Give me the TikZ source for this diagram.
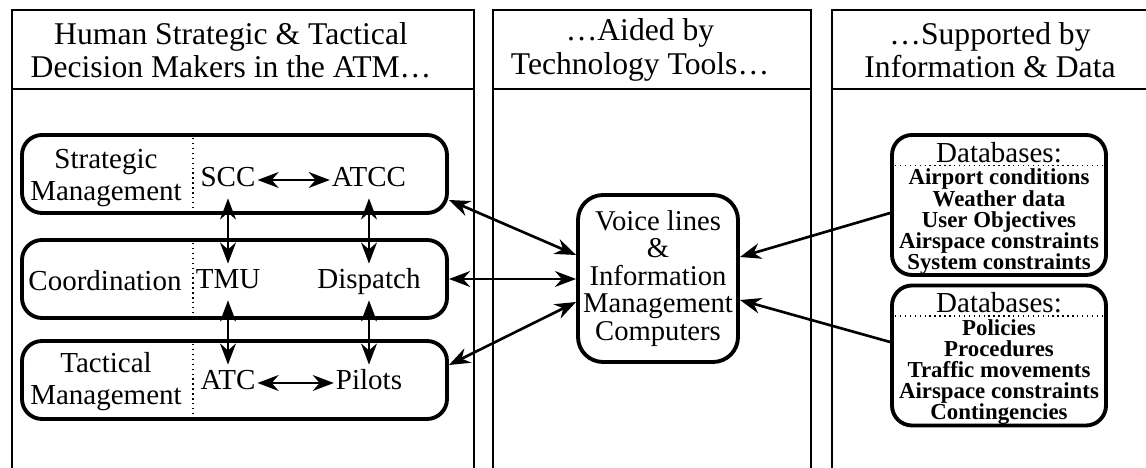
\documentclass[tikz,border=0pt]{standalone}
\usepackage{fontspec}
\setmainfont{Liberation Serif}
\usetikzlibrary{arrows.meta,positioning,calc}

\begin{document}
\begin{tikzpicture}[
    >={Stealth[length=12pt,width=9pt]},
    panel/.style={line width=1.3pt},
    header/.style={align=center, font=\fontsize{18}{19}\selectfont},
    layer/.style={draw, rounded corners=0.4cm, line width=2.2pt, minimum width=8.5cm, minimum height=1.56cm},
    rowname/.style={align=center, font=\fontsize{16.5}{18.2}\selectfont, inner sep=0pt},
    unit/.style={font=\fontsize{16.5}{18}\selectfont, text height=11pt, text depth=3.5pt,
        inner xsep=1pt, inner ysep=3pt},
    hub/.style={draw, rounded corners=0.5cm, line width=2.2pt, minimum width=3.2cm, minimum height=3.34cm,
        align=center, font=\fontsize{16.3}{15.7}\selectfont, inner sep=1pt},
    dbbox/.style={draw, rounded corners=0.4cm, line width=2.2pt, minimum width=4.28cm, minimum height=2.8cm},
    dbtitle/.style={font=\fontsize{16.5}{17}\selectfont, inner xsep=0pt, inner ysep=1.5pt},
    dblist/.style={align=center, font=\bfseries\fontsize{13}{12}\selectfont, inner xsep=1.5pt, inner ysep=1.8pt},
    divider/.style={dotted, line width=0.8pt},
    link/.style={<->, line width=1.5pt},
    feed/.style={->, line width=1.5pt}
]
    \useasboundingbox (0,0) rectangle (22.92,9.36);

    % three columns, open at the bottom
    \draw[panel] (0.24,0) |- (9.48,9.16) -- (9.48,0);
    \draw[panel] (0.24,7.58) -- (9.48,7.58);
    \draw[panel] (9.86,0) |- (16.22,9.16) -- (16.22,0);
    \draw[panel] (9.86,7.58) -- (16.22,7.58);
    \draw[panel] (16.64,0) |- (22.92,9.16);
    \draw[panel] (16.64,7.58) -- (22.92,7.58);

    \node[header] (humans) at (4.62,8.36) {Human Strategic \& Tactical\\Decision Makers in the ATM\ldots};
    \node[header] (tools) at (12.8,8.36) {\ldots Aided by\\Technology Tools\ldots};
    \node[header] (data) at (19.8,8.36) {\ldots Supported by\\Information \& Data};

    \node[layer] (strat) at (4.69,5.88) {};
    \node[layer] (coord) at (4.69,3.78) {};
    \node[layer] (tact) at (4.69,1.76) {};
    \foreach \row in {strat,coord,tact}
        \draw[divider] (3.86,0 |- \row.north) -- (3.86,0 |- \row.south);

    \node[rowname] (stratname) at (2.12,5.8) {Strategic\\Management};
    \node[rowname] (coordname) at (2.1,3.74) {Coordination};
    \node[rowname] (tactname) at (2.12,1.72) {Tactical\\Management};

    \node[unit] (scc) at (4.56,5.76) {SCC};
    \node[unit] (atcc) at (7.38,5.76) {ATCC};
    \node[unit] (tmu) at (4.56,3.72) {TMU};
    \node[unit] (dispatch) at (7.38,3.72) {Dispatch};
    \node[unit] (atc) at (4.56,1.70) {ATC};
    \node[unit] (pilots) at (7.38,1.70) {Pilots};

    \draw[link] (scc) -- (atcc);
    \draw[link] (atc) -- (pilots);
    \draw[link] (scc) -- (tmu);
    \draw[link] (tmu) -- (atc);
    \draw[link] (atcc) -- (dispatch);
    \draw[link] (dispatch) -- (pilots);

    \node[hub] (voice) at (13.16,3.79) {Voice lines\\\&\\Information\\Management\\Computers};

    \draw[link] ([yshift=-0.52cm]strat.east) -- ([yshift=0.47cm]voice.west);
    \draw[link] (coord.east) -- (coord.east -| voice.west);
    \draw[link] ([yshift=0.30cm]tact.east) -- ([yshift=-0.47cm]voice.west);

    \node[dbbox] (db1) at (19.98,5.26) {};
    \node[dbtitle, below=0.12cm of db1.north] (db1title) {Databases:};
    \draw[divider] (db1.west |- db1title.south) -- (db1.east |- db1title.south);
    \node[dblist, below=0pt of db1title] (db1list) {Airport conditions\\Weather data\\User Objectives\\Airspace constraints\\System constraints};

    \node[dbbox] (db2) at (19.98,2.25) {};
    \node[dbtitle, below=0.12cm of db2.north] (db2title) {Databases:};
    \draw[divider] (db2.west |- db2title.south) -- (db2.east |- db2title.south);
    \node[dblist, below=0pt of db2title] (db2list) {Policies\\Procedures\\Traffic movements\\Airspace constraints\\Contingencies};

    \draw[feed] ([yshift=-0.16cm]db1.west) -- ([yshift=0.43cm]voice.east);
    \draw[feed] ([yshift=0.27cm]db2.west) -- ([yshift=-0.43cm]voice.east);
\end{tikzpicture}
\end{document}
